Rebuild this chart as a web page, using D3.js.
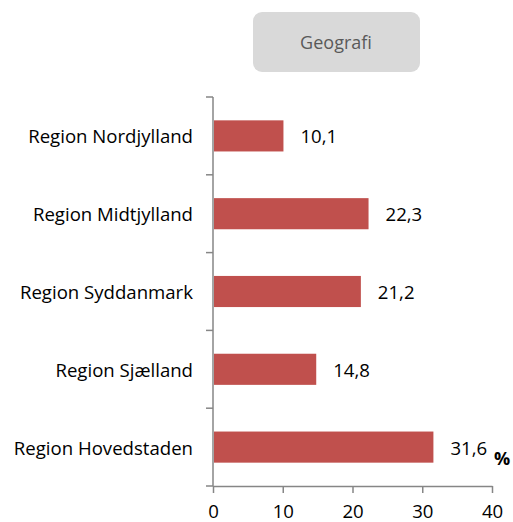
<!DOCTYPE html>
<html>
<head>
<meta charset="utf-8">
<script src="https://cdn.jsdelivr.net/npm/d3@7"></script>
<style>
  body { margin: 0; background: #fff; }
  text { font-family: "Open Sans", sans-serif; }
</style>
</head>
<body>
<svg id="chart" width="513" height="522"></svg>
<script>
var regions = ["Region Nordjylland", "Region Midtjylland", "Region Syddanmark", "Region Sjælland", "Region Hovedstaden"];
var values = [10.1, 22.3, 21.2, 14.8, 31.6];
var xTicks = [0, 10, 20, 30, 40];
var title = "Geografi";

var svg = d3.select("#chart");
var fs = "18.6px";

// title box
svg.append("rect")
  .attr("x", 253).attr("y", 12)
  .attr("width", 167).attr("height", 60)
  .attr("rx", 9).attr("ry", 9)
  .style("fill", "#d9d9d9");
svg.append("text")
  .attr("x", 336).attr("y", 42)
  .attr("text-anchor", "middle")
  .attr("dominant-baseline", "central")
  .style("font-size", "18px")
  .style("fill", "#595959")
  .text(title);

var x = d3.scaleLinear().domain([0, 40]).range([213, 492]);
var y = d3.scaleBand().domain(regions).range([97, 486])
  .paddingInner(0.6).paddingOuter(0.3);

// bars
svg.append("g").selectAll("rect.bar")
  .data(regions)
  .join("rect")
  .classed("bar", true)
  .attr("x", x(0) + 1)
  .attr("y", d => y(d))
  .attr("width", (d, i) => x(values[i]) - x(0) - 1)
  .attr("height", y.bandwidth())
  .style("fill", "#c0504d");

// value labels
svg.append("g").selectAll("text.val")
  .data(regions)
  .join("text")
  .classed("val", true)
  .attr("x", (d, i) => x(values[i]) + 17)
  .attr("y", d => y(d) + y.bandwidth() / 2)
  .attr("dominant-baseline", "central")
  .style("font-size", fs)
  .style("fill", "#000")
  .text((d, i) => d3.format(".1f")(values[i]).replace(".", ","));

// category labels
svg.append("g").selectAll("text.cat")
  .data(regions)
  .join("text")
  .classed("cat", true)
  .attr("x", 193)
  .attr("y", d => y(d) + y.bandwidth() / 2)
  .attr("text-anchor", "end")
  .attr("dominant-baseline", "central")
  .style("font-size", fs)
  .style("fill", "#000")
  .text(d => d);

// y axis line + boundary ticks
var step = y.step();
var bounds = d3.range(regions.length + 1).map(i => 97 + i * step);
svg.append("line")
  .attr("x1", 213).attr("x2", 213)
  .attr("y1", 97).attr("y2", 486)
  .style("stroke", "#868686").style("stroke-width", 1.5);
svg.append("g").selectAll("line")
  .data(bounds)
  .join("line")
  .attr("x1", 206).attr("x2", 213)
  .attr("y1", d => d).attr("y2", d => d)
  .style("stroke", "#868686").style("stroke-width", 1.5);

// x axis
var xAxis = svg.append("g")
  .attr("transform", "translate(0,486)")
  .call(d3.axisBottom(x).tickValues(xTicks).tickSize(7).tickSizeOuter(0).tickPadding(12));
xAxis.select(".domain").style("stroke", "#868686").style("stroke-width", 1.5);
xAxis.selectAll(".tick line").style("stroke", "#868686").style("stroke-width", 1.5);
xAxis.selectAll(".tick text")
  .style("font-family", "'Open Sans', sans-serif")
  .style("font-size", fs)
  .style("fill", "#000");

// unit
svg.append("text")
  .attr("x", 494).attr("y", 465)
  .style("font-size", "18px")
  .style("font-weight", "bold")
  .style("fill", "#000")
  .text("%");
</script>
</body>
</html>
